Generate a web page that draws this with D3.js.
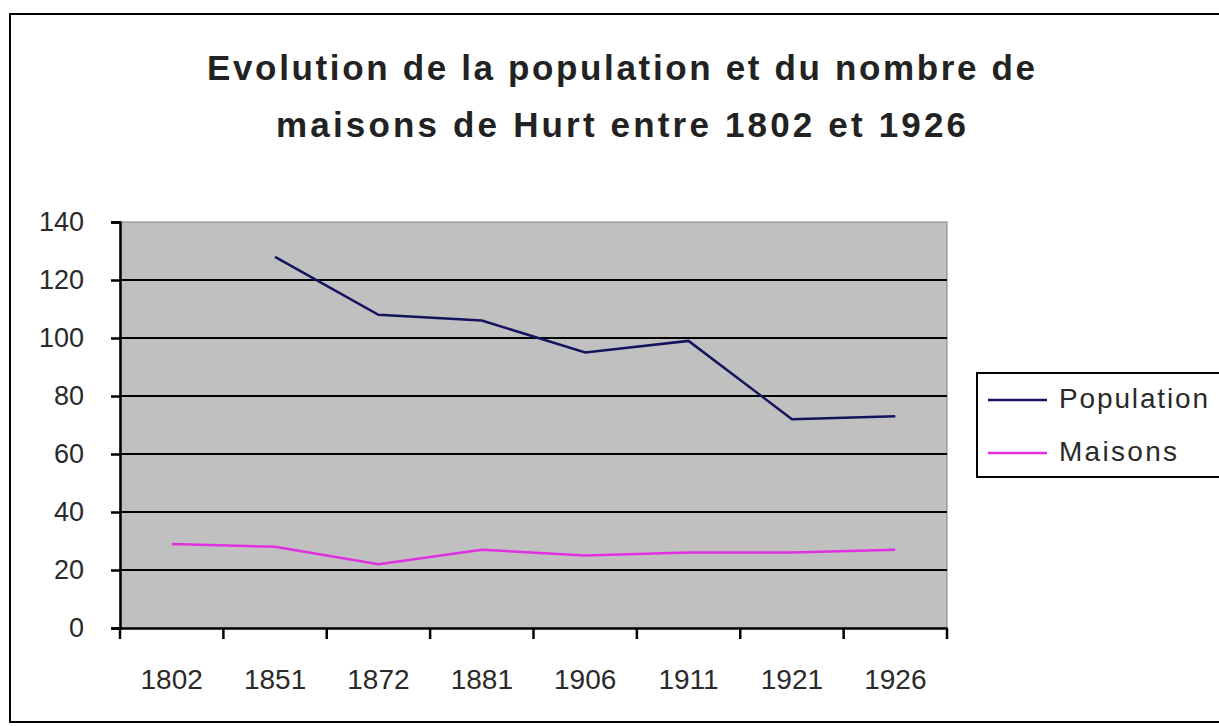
<!DOCTYPE html>
<html><head><meta charset="utf-8">
<script src="https://cdn.jsdelivr.net/npm/d3@7"></script>
<style>body{margin:0;background:#fff;}svg{display:block;font-family:"Liberation Sans",Arial,sans-serif;}</style>
</head><body><svg id="c" width="1219" height="726"></svg>
<script>
const categories = ["1802","1851","1872","1881","1906","1911","1921","1926"];
const population = [null,128,108,106,95,99,72,73];
const maisons = [29,28,22,27,25,26,26,27];
const yTicks = [0,20,40,60,80,100,120,140];
const seriesNames = ["Population","Maisons"];
const seriesColors = ["#14145e","#e030e0"];
const titleLines = ["Evolution de la population et du nombre de","maisons de Hurt entre 1802 et 1926"];

const svg = d3.select("#c");
svg.append("rect").attr("x",10).attr("y",14).attr("width",1230).attr("height",708)
  .attr("fill","#fff").attr("stroke","#000").attr("stroke-width",2);

const L=120,R=947,T=222,B=628;
const x = d3.scaleBand().domain(categories).range([L,R]);
const y = d3.scaleLinear().domain([0,140]).range([B,T]);

svg.append("rect").attr("x",L).attr("y",T).attr("width",R-L).attr("height",B-T)
  .attr("fill","#c0c0c0").attr("stroke","#808080").attr("stroke-width",1);

svg.append("g").selectAll("line").data(yTicks.filter(d=>d>0 && d<140)).join("line")
  .attr("x1",L).attr("x2",R).attr("y1",d=>y(d)).attr("y2",d=>y(d))
  .attr("stroke","#000").attr("stroke-width",2);

const yAxis = svg.append("g").attr("transform",`translate(${L},0)`)
  .call(d3.axisLeft(y).tickValues(yTicks).tickSize(9).tickPadding(27));
yAxis.select(".domain").attr("stroke","#000").attr("stroke-width",2.5);
yAxis.selectAll(".tick line").attr("stroke","#000").attr("stroke-width",2.5);
yAxis.selectAll("text").attr("font-size",27).attr("fill","#2a2a2a").attr("font-family","Liberation Sans, Arial");

const xAxis = svg.append("g").attr("transform",`translate(0,${B})`)
  .call(d3.axisBottom(x).tickSize(0));
xAxis.select(".domain").attr("stroke","#000").attr("stroke-width",2.5);
xAxis.selectAll("text").attr("y",61).attr("dy",0).attr("font-size",28).attr("fill","#2a2a2a").attr("font-family","Liberation Sans, Arial");
const bounds = categories.map(c=>x(c)).concat([R]);
svg.append("g").selectAll("line").data(bounds).join("line")
  .attr("x1",d=>d).attr("x2",d=>d).attr("y1",B).attr("y2",B+11)
  .attr("stroke","#000").attr("stroke-width",2.5);

const line = d3.line().defined(d=>d.v!=null)
  .x(d=>x(d.c)+x.bandwidth()/2).y(d=>y(d.v));
[population,maisons].forEach((arr,i)=>{
  svg.append("path").datum(categories.map((c,j)=>({c,v:arr[j]})))
    .attr("d",line).attr("fill","none").attr("stroke",seriesColors[i]).attr("stroke-width",2.5);
});

const titleLen = [828,690];
titleLines.forEach((t,i)=>svg.append("text").attr("text-anchor","middle").attr("font-weight","bold")
  .attr("font-size",35).attr("fill","#222").attr("x",621).attr("y",80+i*57)
  .attr("textLength",titleLen[i]).attr("lengthAdjust","spacing").text(t));

const lg = svg.append("g");
lg.append("rect").attr("x",977).attr("y",373).attr("width",250).attr("height",104)
  .attr("fill","#fff").attr("stroke","#000").attr("stroke-width",2);
const legLen = [149,118];
seriesNames.forEach((n,i)=>{
  const yy = 400+i*53;
  lg.append("line").attr("x1",988).attr("x2",1047).attr("y1",yy).attr("y2",yy)
    .attr("stroke",seriesColors[i]).attr("stroke-width",2.5);
  lg.append("text").attr("x",1059).attr("y",yy+8).attr("font-size",28).attr("fill","#2a2a2a")
    .attr("textLength",legLen[i]).attr("lengthAdjust","spacing").text(n);
});
</script></body></html>
